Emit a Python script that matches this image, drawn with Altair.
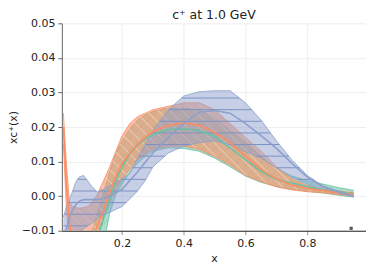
import altair as alt
import numpy as np
import pandas as pd

# ---------------- data ----------------
X = [0.01, 0.02, 0.03, 0.04, 0.05, 0.06, 0.075, 0.09, 0.1, 0.12, 0.14, 0.16, 0.18, 0.2, 0.225,
     0.25, 0.275, 0.3, 0.35, 0.4, 0.45, 0.5, 0.55, 0.6, 0.65, 0.7, 0.75, 0.8, 0.85, 0.9, 0.95]

green_hi = [-0.03, -0.03, -0.028, -0.025, -0.022, -0.02, -0.017, -0.013, -0.011, -0.005, 0.001, 0.007,
            0.0125, 0.016, 0.0195, 0.022, 0.0235, 0.0245, 0.0255, 0.0255, 0.025, 0.0225, 0.019, 0.0155,
            0.0115, 0.008, 0.0058, 0.0045, 0.0035, 0.0025, 0.0017]
green_lo = [-0.05, -0.05, -0.048, -0.045, -0.042, -0.04, -0.036, -0.031, -0.028, -0.021, -0.014, -0.005,
            0.0005, 0.0035, 0.0068, 0.0095, 0.0115, 0.013, 0.014, 0.0138, 0.013, 0.011, 0.0085, 0.0058,
            0.004, 0.0028, 0.002, 0.0014, 0.0009, 0.0003, -0.0003]
green_c = [-0.04, -0.04, -0.038, -0.035, -0.032, -0.03, -0.026, -0.022, -0.019, -0.012, -0.0065, -0.001,
           0.0045, 0.0085, 0.0122, 0.0148, 0.0166, 0.0178, 0.0193, 0.0195, 0.019, 0.0172, 0.014, 0.0105,
           0.0072, 0.0048, 0.0038, 0.0027, 0.0018, 0.0012, 0.0007]

orange_hi = [0.024, 0.009, -0.002, -0.003, -0.0033, -0.0035, -0.0033, -0.003, -0.002, 0.0005, 0.0045,
             0.0085, 0.013, 0.0175, 0.021, 0.023, 0.024, 0.025, 0.026, 0.027, 0.027, 0.025, 0.021, 0.017,
             0.013, 0.0085, 0.005, 0.003, 0.002, 0.0015, 0.001]
orange_lo = [0.015, -0.004, -0.014, -0.02, -0.024, -0.026, -0.027, -0.025, -0.02, -0.012, -0.006, -0.0017,
             0.002, 0.005, 0.0078, 0.0105, 0.0122, 0.0135, 0.0145, 0.0145, 0.0135, 0.0115, 0.009, 0.006,
             0.0042, 0.0027, 0.0018, 0.0013, 0.001, 0.0005, 0.0]
orange_c = [0.02, 0.003, -0.008, -0.014, -0.017, -0.018, -0.018, -0.016, -0.014, -0.0085, -0.004, 0.001,
            0.0058, 0.0095, 0.0125, 0.015, 0.017, 0.0187, 0.0205, 0.0212, 0.0205, 0.0185, 0.0155, 0.0115,
            0.0078, 0.005, 0.0032, 0.0022, 0.0016, 0.001, 0.0005]

blue_hi = [-0.006, -0.003, -0.001, 0.0015, 0.004, 0.0055, 0.006, 0.0043, 0.003, 0.0012, 0.002, 0.003,
           0.004, 0.005, 0.0065, 0.011, 0.015, 0.019, 0.025, 0.029, 0.0302, 0.0305, 0.0305, 0.027, 0.022,
           0.016, 0.0105, 0.006, 0.003, 0.0015, 0.0005]
blue_lo = [-0.012, -0.012, -0.012, -0.0115, -0.011, -0.0105, -0.0095, -0.0085, -0.008, -0.0065, -0.0055,
           -0.0047, -0.0038, -0.003, -0.0008, 0.0015, 0.0045, 0.0085, 0.0125, 0.0145, 0.0155, 0.016, 0.0148,
           0.0128, 0.011, 0.0082, 0.0055, 0.0035, 0.0017, 0.0008, 0.0]
blue_c = [-0.012, -0.0095, -0.006, -0.004, -0.0025, -0.0015, -0.001, -0.001, -0.001, -0.001, -0.0007, 0.0,
          0.001, 0.002, 0.0045, 0.007, 0.0098, 0.0125, 0.017, 0.021, 0.0243, 0.0248, 0.024, 0.021, 0.0175,
          0.0138, 0.0095, 0.0055, 0.0028, 0.0012, 0.0]

marker_x = [0.942]
marker_y = [-0.0093]

X_TICKS = [0.2, 0.4, 0.6, 0.8]
Y_TICKS = [-0.01, 0.0, 0.01, 0.02, 0.03, 0.04, 0.05]

# ---------------- layout / style ----------------
XDOM = [0.005, 0.99]
YDOM = [-0.01, 0.05]
W, H = 305, 208
GREEN, ORANGE, BLUE = "#66c2a5", "#fc8d62", "#8da0cb"
PXX = W / (XDOM[1] - XDOM[0])
PXY = H / (YDOM[1] - YDOM[0])

series = {
    "green": (green_lo, green_hi, green_c),
    "orange": (orange_lo, orange_hi, orange_c),
    "blue": (blue_lo, blue_hi, blue_c),
}

band_df = {k: pd.DataFrame({"x": X, "lo": v[0], "hi": v[1]}) for k, v in series.items()}
edge_df = {
    k: pd.concat([
        pd.DataFrame({"x": X, "y": v[0], "k": "lo"}),
        pd.DataFrame({"x": X, "y": v[1], "k": "hi"}),
    ]) for k, v in series.items()
}
cent_df = {k: pd.DataFrame({"x": X, "y": v[2]}) for k, v in series.items()}

xf = np.linspace(X[0], X[-1], 1500)


def runs(mask):
    out, start = [], None
    for i, m in enumerate(mask):
        if m and start is None:
            start = i
        elif not m and start is not None:
            out.append((start, i - 1))
            start = None
    if start is not None:
        out.append((start, len(mask) - 1))
    return out


def hatch(lo, hi, kind, step_px):
    lo_f = np.interp(xf, X, lo)
    hi_f = np.interp(xf, X, hi)
    px = (xf - XDOM[0]) * PXX
    if kind == "h":
        levels = np.arange(0.0015 - 4 * 0.00336, YDOM[1], 0.00336)
        lines = [np.full_like(xf, lv) for lv in levels]
    else:
        sgn = 1 if kind == "back" else -1
        cs = np.arange(-W - H, W + H, step_px)
        lines = [YDOM[1] - (sgn * px + c) / PXY for c in cs]
    rows, sid = [], 0
    for yl in lines:
        m = (yl > lo_f) & (yl < hi_f) & (yl >= YDOM[0]) & (yl <= YDOM[1])
        for a, b in runs(m):
            if b > a:
                rows.append({"id": sid, "x": float(xf[a]), "y": float(yl[a]), "o": 0})
                rows.append({"id": sid, "x": float(xf[b]), "y": float(yl[b]), "o": 1})
                sid += 1
    return pd.DataFrame(rows)


h_blue = hatch(blue_lo, blue_hi, "h", 0)
h_orange = hatch(orange_lo, orange_hi, "back", 12)
h_green = hatch(green_lo, green_hi, "fwd", 12)

xs = alt.Scale(domain=XDOM, nice=False, zero=False)
ys = alt.Scale(domain=YDOM, nice=False, zero=False)
x_axis = alt.Axis(values=X_TICKS, format=".1f", title="x", grid=True, gridColor="#eeeeee",
                  domainColor="#222222", tickColor="#999999", tickSize=4, labelFontSize=11,
                  titleFontSize=11, titleFontWeight="normal", labelColor="#222", titleColor="#222",
                  titlePadding=4, labelPadding=3, labelOverlap=False)
y_axis = alt.Axis(values=Y_TICKS, format=".2f", title="xc⁺(x)", grid=True, gridColor="#eeeeee",
                  domainColor="#666666", tickColor="#666666", tickSize=4, labelFontSize=11,
                  titleFontSize=11, titleFontWeight="normal", labelColor="#222", titleColor="#222",
                  titlePadding=3, labelPadding=3, labelOverlap=False)


def X_(field):
    return alt.X(field, type="quantitative", scale=xs, axis=x_axis, title="x")


def Y_(field):
    return alt.Y(field, type="quantitative", scale=ys, axis=y_axis, title="xc⁺(x)")


def band_layer(name, color, op):
    return alt.Chart(band_df[name]).mark_area(clip=True, color=color, opacity=op).encode(
        x=X_("x"), y=Y_("lo"), y2=alt.Y2("hi"))


def edge_layer(name, color):
    return alt.Chart(edge_df[name]).mark_line(clip=True, color=color, strokeWidth=0.8).encode(
        x=X_("x"), y=Y_("y"), detail="k:N")


def line_layer(name, color):
    return alt.Chart(cent_df[name]).mark_line(clip=True, color=color, strokeWidth=1.6).encode(
        x=X_("x"), y=Y_("y"))


def hatch_layer(df, color, op, w):
    return alt.Chart(df).mark_line(clip=True, color=color, opacity=op, strokeWidth=w).encode(
        x=X_("x"), y=Y_("y"), detail="id:N", order="o:Q")


marker = alt.Chart(pd.DataFrame({"x": marker_x, "y": marker_y})).mark_square(
    color="#555555", size=10, opacity=1).encode(x=X_("x"), y=Y_("y"))

chart = alt.layer(
    band_layer("green", GREEN, 0.55),
    hatch_layer(h_green, "#4d7f6c", 0.3, 0.6),
    edge_layer("green", GREEN),
    band_layer("orange", ORANGE, 0.6),
    hatch_layer(h_orange, "#ffe3d6", 0.85, 0.8),
    edge_layer("orange", ORANGE),
    band_layer("blue", BLUE, 0.5),
    hatch_layer(h_blue, "#7d92c4", 1.0, 1.0),
    edge_layer("blue", BLUE),
    line_layer("green", GREEN),
    line_layer("orange", ORANGE),
    line_layer("blue", BLUE),
    marker,
).properties(
    width=W, height=H,
    title=alt.TitleParams("c⁺ at 1.0 GeV", fontSize=12.5, fontWeight="normal", color="#222",
                          offset=2, frame="group", dy=6),
    autosize=alt.AutoSizeParams(type="none"),
    padding={"left": 54, "top": 15, "right": 0, "bottom": 40},
).configure(font="DejaVu Sans").configure_view(stroke=None)

chart.save("out.html", embed_options={"renderer": "svg", "actions": False})
